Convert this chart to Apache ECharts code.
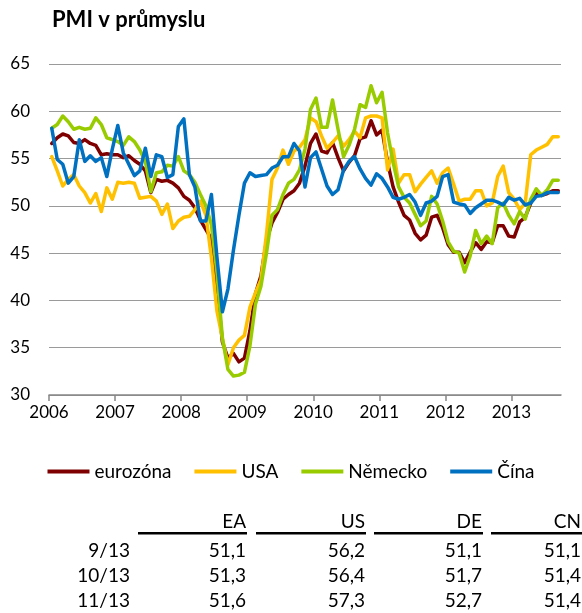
<!DOCTYPE html>
<html><head><meta charset="utf-8">
<script src="https://cdn.jsdelivr.net/npm/echarts@6/dist/echarts.min.js"></script>
<style>html,body{margin:0;padding:0;background:#fff}#c{width:582px;height:613px}</style>
</head><body><div id="c"></div>
<script>
// Tick labels (one per year tick)
const years = ['2006','2007','2008','2009','2010','2011','2012','2013'];
const seriesNames = ['eurozóna','USA','Německo','Čína'];
const seriesColors = ['#7f0000','#ffc000','#99cc00','#0070c0'];

// Monthly PMI values (93 points)
const eurozona = [56.6,57.2,57.6,57.4,56.7,56.6,57.0,56.6,56.4,55.4,55.5,55.4,55.4,55.1,55.3,54.8,54.4,53.7,51.4,52.8,52.6,52.7,52.4,51.9,51.0,
  50.6,49.8,48.5,47.5,46.5,41.5,35.6,33.9,34.4,33.5,33.9,36.8,40.7,42.6,46.3,48.2,49.3,50.7,51.2,51.6,52.4,54.2,56.6,57.6,55.8,55.6,56.7,55.1,53.7,54.6,55.3,57.1,57.3,59.0,57.5,58.0,54.6,52.0,50.4,49.0,48.5,47.1,46.4,46.9,48.8,49.0,47.7,45.9,45.1,45.1,44.0,45.1,46.1,45.4,46.2,46.1,47.9,47.9,46.8,46.7,48.3,48.8,50.3,51.4,51.1,51.3,51.6,51.6];
const usa = [55.2,53.7,52.1,52.8,53.3,52.1,51.4,50.3,51.3,49.4,51.9,50.7,52.5,52.4,52.5,52.4,50.8,50.9,51.0,50.5,49.1,50.2,47.6,48.4,48.8,
  48.9,49.6,50.5,49.0,44.5,38.9,36.0,33.2,35.0,35.8,36.3,39.3,40.8,42.2,47.0,52.8,54.0,55.9,54.4,55.8,56.2,57.0,59.3,58.9,57.4,56.1,56.7,57.4,56.3,57.0,57.9,57.2,59.3,59.5,59.5,59.3,53.8,56.0,52.4,53.3,53.3,51.5,52.3,53.0,53.7,52.4,53.5,54.0,52.3,50.5,50.7,50.7,51.6,51.6,50.0,50.3,53.1,54.2,51.4,50.7,49.6,50.3,55.4,55.9,56.2,56.5,57.3,57.3];
const nemecko = [58.2,58.6,59.5,58.9,58.1,58.3,58.1,58.2,59.3,58.6,57.2,57.0,56.8,56.4,57.3,56.8,55.9,54.7,51.5,53.5,53.6,54.3,54.2,55.2,53.7,
  53.3,52.5,51.2,50.0,48.0,43.0,36.0,32.7,32.0,32.1,32.4,35.2,39.6,41.5,45.0,49.0,49.6,51.2,52.4,52.8,53.8,56.0,60.2,61.4,58.3,58.3,61.2,58.1,55.2,56.4,58.1,60.7,60.4,62.7,60.9,62.0,57.7,54.6,52.0,50.9,50.3,49.1,47.9,48.4,51.0,50.2,48.4,46.2,45.2,45.0,43.0,44.7,47.4,46.0,46.8,46.0,49.8,50.3,49.0,48.1,49.4,48.6,50.7,51.8,51.1,51.7,52.7,52.7];
const cina = [58.2,54.9,54.4,52.4,53.1,57.0,54.7,55.3,54.7,55.1,53.1,56.0,58.5,55.6,54.4,53.2,53.7,56.1,53.1,55.4,55.2,53.0,53.3,58.4,59.2,
  53.3,52.0,48.4,48.4,51.2,44.6,38.8,41.2,45.3,49.0,52.4,53.5,53.1,53.2,53.3,54.0,54.3,55.2,55.2,56.6,55.8,52.0,55.1,55.7,53.9,52.1,51.2,51.7,53.8,54.7,55.2,53.9,52.9,52.2,53.4,52.9,52.0,50.9,50.7,50.9,51.2,50.4,49.0,50.3,50.5,51.0,53.1,53.3,50.4,50.2,50.1,49.2,49.8,50.2,50.6,50.6,50.4,50.1,50.9,50.6,50.8,50.1,50.3,51.0,51.1,51.4,51.4,51.4];

// Table
const tableCols = ['EA','US','DE','CN'];
const tableRows = ['9/13','10/13','11/13'];
const tabEA = ['51,1','51,3','51,6'];
const tabUS = ['56,2','56,4','57,3'];
const tabDE = ['51,1','51,7','52,7'];
const tabCN = ['51,1','51,4','51,4'];

const FONT = 'Lato, Carlito, Calibri, sans-serif';
const allSeries = [eurozona, usa, nemecko, cina];
const n = eurozona.length;

const chart = echarts.init(document.getElementById('c'), null, {renderer:'canvas'});

const graphics = [];
graphics.push({type:'text', left:52, top:9, style:{text:'PMI v průmyslu', font:'bold 22px '+FONT, fill:'#000'}});
const colRight = [246, 365, 482, 581];
const colLeft = [138, 256, 374, 491];
const headerY = 522, lineY = 532, rowY = [551, 576, 601];
const tabData = [tabEA, tabUS, tabDE, tabCN];
tableCols.forEach((c, k) => {
  graphics.push({type:'text', x:colRight[k], y:headerY, style:{text:c, font:'19px '+FONT, fill:'#000', align:'right', verticalAlign:'middle'}});
  graphics.push({type:'rect', shape:{x:colLeft[k], y:lineY, width:colRight[k]-colLeft[k]+1, height:2.5}, style:{fill:'#000'}});
  tabData[k].forEach((v, r) => {
    graphics.push({type:'text', x:colRight[k], y:rowY[r], style:{text:v, font:'19px '+FONT, fill:'#000', align:'right', verticalAlign:'middle'}});
  });
});
tableRows.forEach((t, r) => {
  graphics.push({type:'text', x:130, y:rowY[r], style:{text:t, font:'19px '+FONT, fill:'#000', align:'right', verticalAlign:'middle'}});
});

const tickVals = years.map((y, k) => k * 12 - 0.5);

chart.setOption({
  animation: false,
  backgroundColor: '#fff',
  grid: {left:49, right:21, top:64, bottom:218, containLabel:false},
  xAxis: {
    type:'value', min:-0.5, max:n-0.5,
    axisLine:{show:true, lineStyle:{color:'#868686', width:1.5}},
    axisTick:{show:true, length:6, lineStyle:{color:'#868686', width:1.5}, customValues: tickVals},
    axisLabel:{show:true, margin:9, fontFamily:FONT, fontSize:17, color:'#000', customValues: tickVals,
      formatter: v => years[Math.round((v + 0.5) / 12)] || ''},
    splitLine:{show:false}
  },
  yAxis: {
    type:'value', min:30, max:65, interval:5,
    axisLine:{show:false}, axisTick:{show:false},
    axisLabel:{fontFamily:FONT, fontSize:17, color:'#000', margin:19},
    splitLine:{show:true, lineStyle:{color:'#9a9a9a', width:1}}
  },
  legend: {
    data: seriesNames, top:457, left:'center', icon:'rect', itemWidth:42, itemHeight:4, itemGap:23,
    textStyle:{fontFamily:FONT, fontSize:19, color:'#000'}
  },
  series: allSeries.map((arr, s) => ({
    name: seriesNames[s], type:'line', symbol:'none', showSymbol:false,
    color: seriesColors[s],
    lineStyle:{color:seriesColors[s], width:3.5, join:'round', cap:'round'},
    data: arr.map((v, k) => [k, v])
  })),
  graphic: graphics
});
</script></body></html>
